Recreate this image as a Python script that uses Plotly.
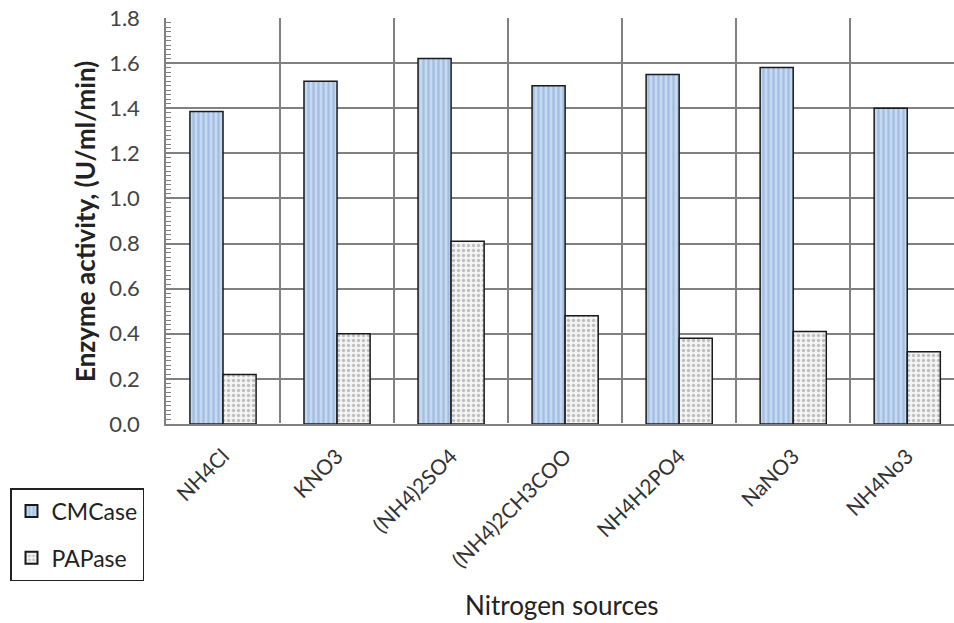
import plotly.graph_objects as go

categories = ["NH4Cl", "KNO3", "(NH4)2SO4", "(NH4)2CH3COO", "NH4H2PO4", "NaNO3", "NH4No3"]
cmcase = [1.385, 1.52, 1.62, 1.50, 1.55, 1.58, 1.40]
papase = [0.22, 0.40, 0.81, 0.48, 0.38, 0.41, 0.32]
y_ticks = [0.0, 0.2, 0.4, 0.6, 0.8, 1.0, 1.2, 1.4, 1.6, 1.8]

W, H = 954, 623
L, R, T, B = 166, 0, 18, 623 - 424
pw, ph = W - L - R, H - T - B

def px(x):  # page x -> paper x
    return (x - L) / pw

def py(y):  # page y -> paper y
    return (H - B - y) / ph

fig = go.Figure()
fig.add_trace(go.Bar(
    name="CMCase", x=categories, y=cmcase, legendgroup="a",
    marker=dict(color="#c6d9f1", line=dict(color="#1a1a1a", width=1.5),
                pattern=dict(shape="|", fgcolor="#7ea3d6", bgcolor="#c6d9f1",
                             size=5, solidity=0.45, fillmode="overlay")),
))
fig.add_trace(go.Bar(
    name="PAPase", x=categories, y=papase, legendgroup="b",
    marker=dict(color="white", line=dict(color="#1a1a1a", width=1.5),
                pattern=dict(shape=".", fgcolor="#8a8a8a", bgcolor="#f4f4f4",
                             size=5, solidity=0.35, fillmode="overlay")),
))

font = "Lato, 'Open Sans', sans-serif"
grid = "#808080"
fig.update_layout(
    width=W, height=H,
    margin=dict(l=L, r=R, t=T, b=B, autoexpand=False),
    paper_bgcolor="white", plot_bgcolor="white",
    barmode="group", bargap=0.42, bargroupgap=0.0,
    font=dict(family=font, size=17, color="#333333"),
    showlegend=True,
    legend=dict(x=px(10), y=py(488), xanchor="left", yanchor="top",
                bordercolor="#222222", borderwidth=1.5, bgcolor="white",
                font=dict(size=23, color="#222222"),
                tracegroupgap=14, itemsizing="constant", itemwidth=30),
    xaxis=dict(
        type="category", range=[-0.5, 6.41], tickson="boundaries",
        showgrid=True, gridcolor=grid, gridwidth=1.5,
        showline=True, linecolor=grid, linewidth=1.5,
        ticks="", tickangle=-45, tickfont=dict(size=21, color="#333333"),
        ticklabelstandoff=10,
        automargin=False,
    ),
    yaxis=dict(
        range=[0, 1.8], tickvals=y_ticks, tickformat=".1f",
        showgrid=True, gridcolor=grid, gridwidth=1.5,
        showline=True, linecolor=grid, linewidth=1.5, mirror=False,
        ticks="inside", ticklen=8, tickcolor=grid,
        ticklabelstandoff=20, ticklabeloverflow="allow",
        minor=dict(dtick=0.02, ticks="inside", ticklen=5, tickcolor=grid, showgrid=False),
        tickfont=dict(size=22, color="#444444"),
        automargin=False,
    ),
    annotations=[
        dict(text="Enzyme activity, (U/ml/min)", textangle=-90, x=px(85), y=py(222),
             xref="paper", yref="paper", xanchor="center", yanchor="middle",
             showarrow=False, font=dict(size=26, color="#222222", family=font, weight="bold")),
        dict(text="Nitrogen sources", x=px(562), y=py(605),
             xref="paper", yref="paper", xanchor="center", yanchor="middle",
             showarrow=False, font=dict(size=26, color="#222222", family=font)),
    ],
)

fig.write_html("out.html", config={"displayModeBar": False},
               post_script="document.body.style.margin='0';")
